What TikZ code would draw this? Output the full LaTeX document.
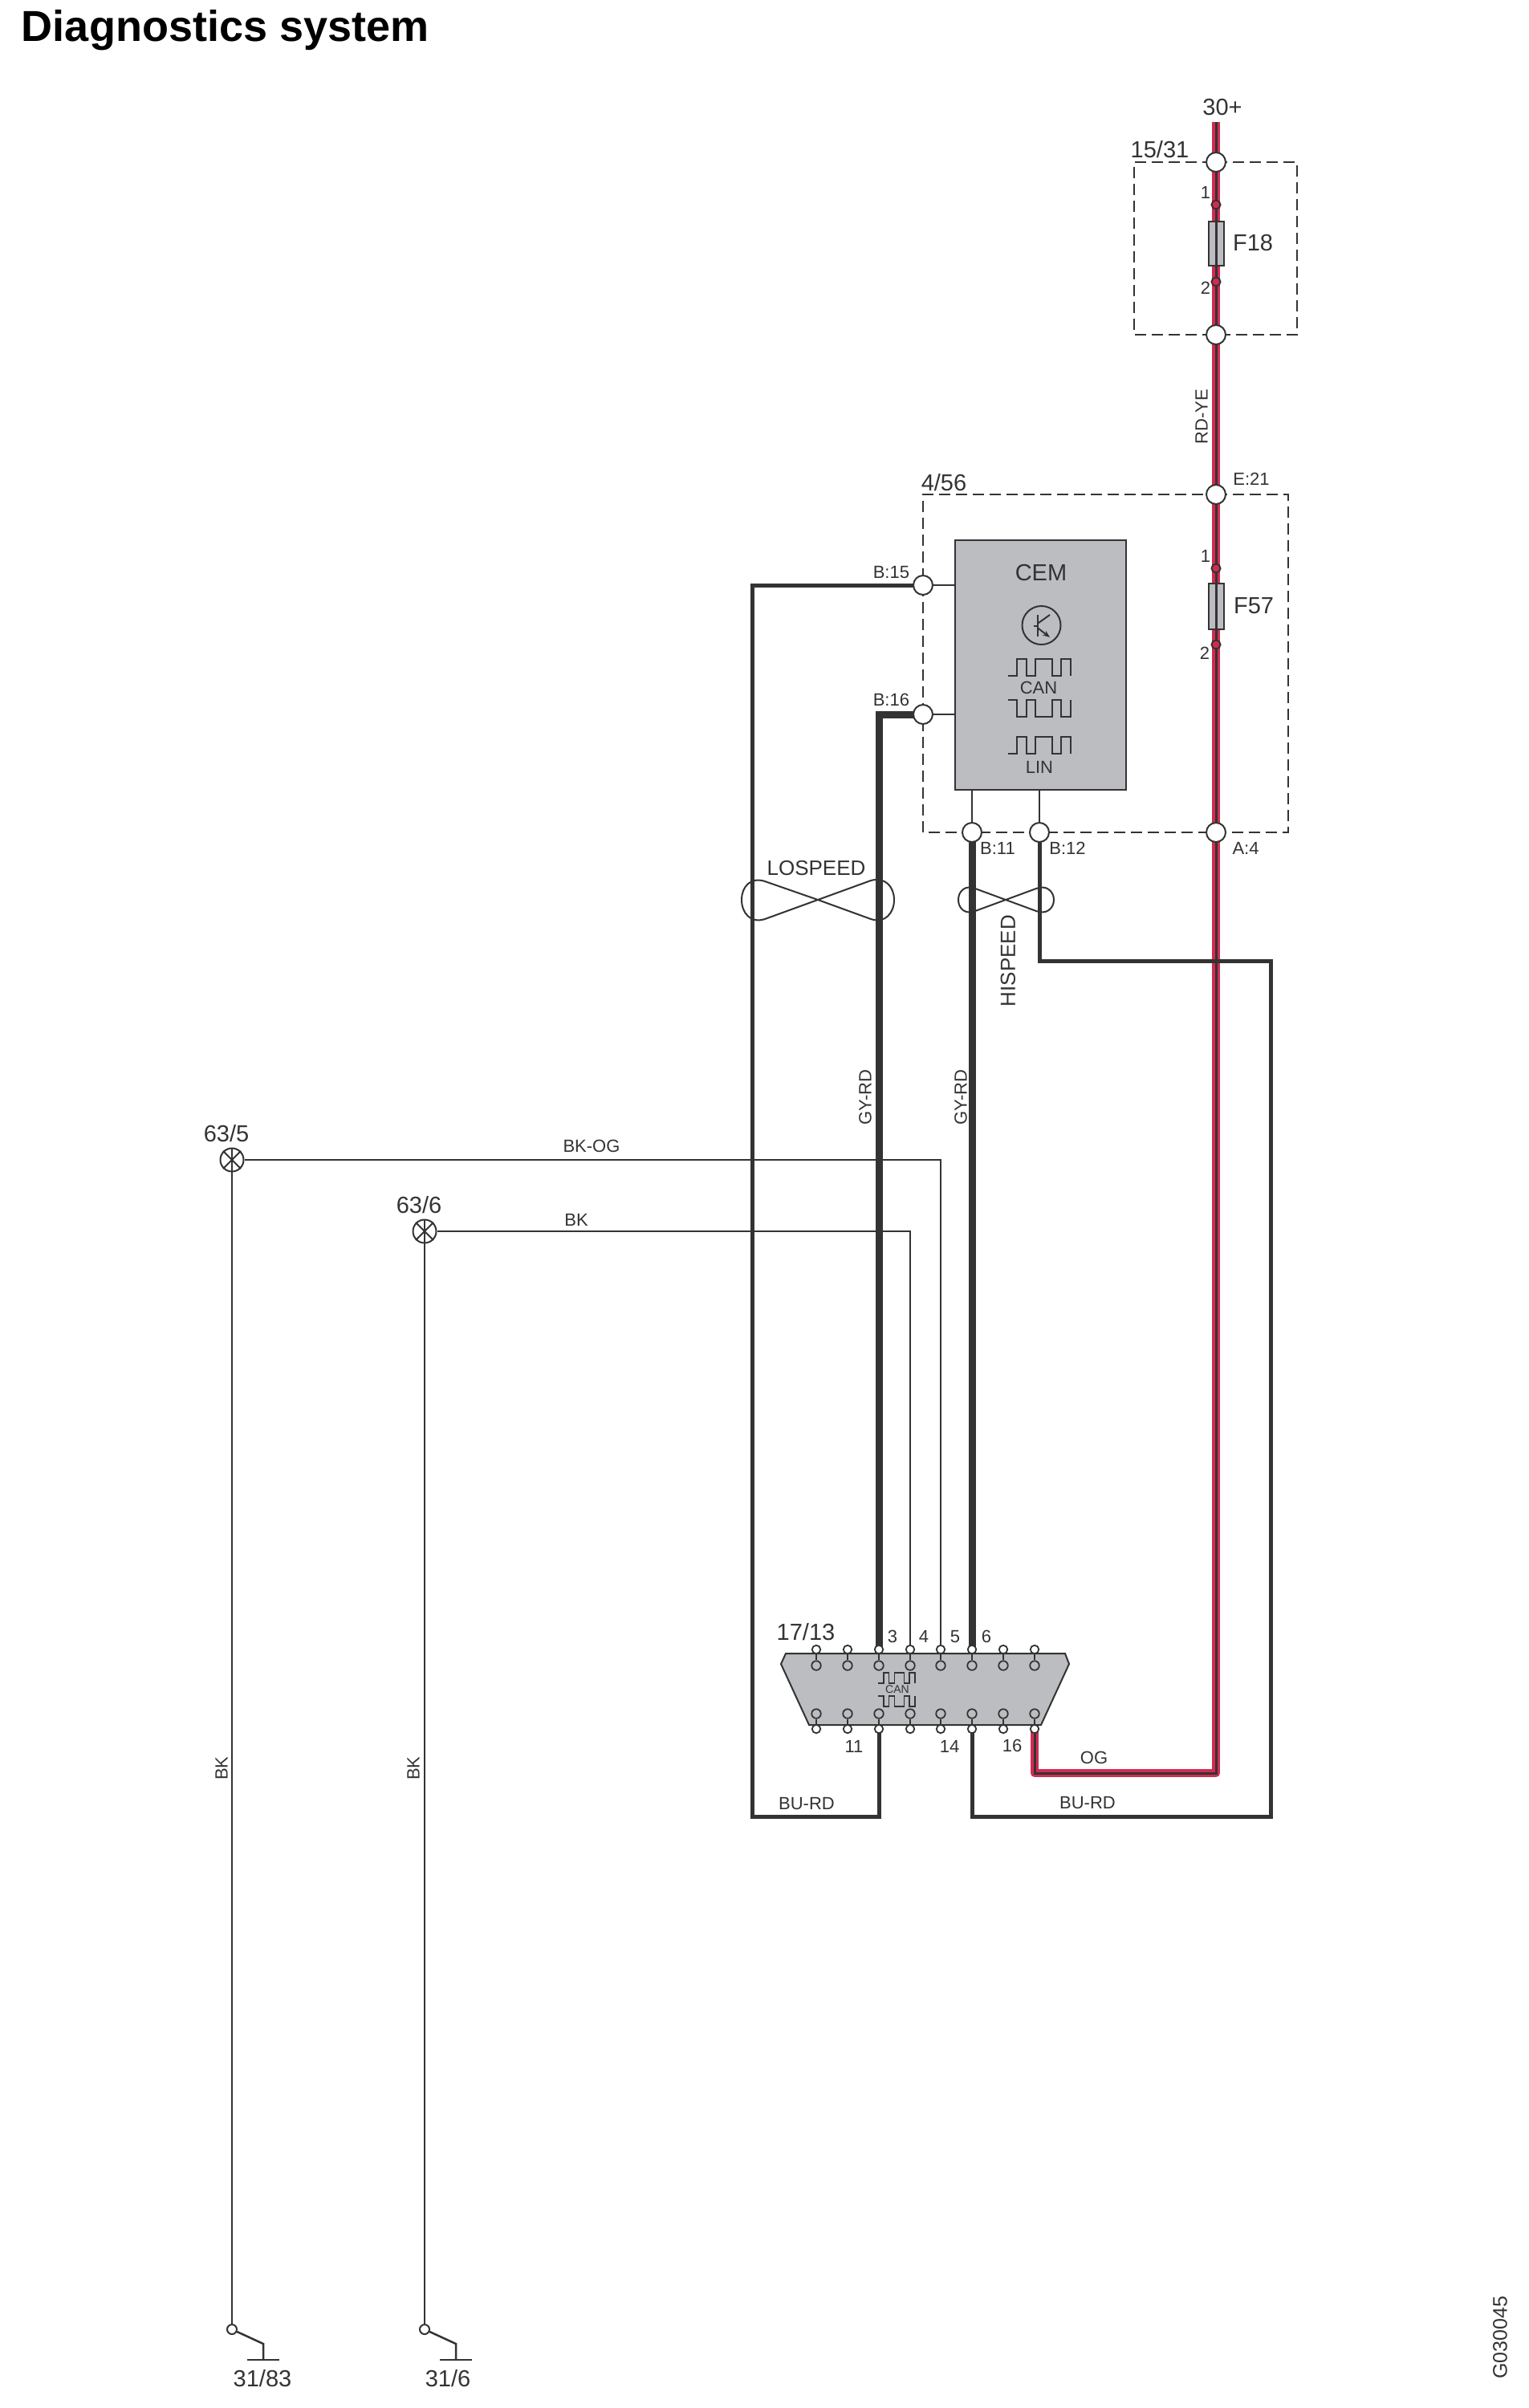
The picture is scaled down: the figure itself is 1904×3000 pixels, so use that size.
\documentclass[tikz,border=0pt]{standalone}
\usepackage{fontspec}
\setmainfont{Liberation Sans}
\usetikzlibrary{arrows.meta}
\definecolor{ink}{HTML}{333333}
\definecolor{wirered}{HTML}{D22B52}
\definecolor{boxgray}{HTML}{BCBDC0}
\pgfdeclarelayer{paper}\pgfdeclarelayer{redl}\pgfdeclarelayer{fusel}\pgfdeclarelayer{wirel}
\pgfsetlayers{paper,redl,fusel,wirel,main}
\newcommand{\fs}[1]{\fontsize{#1}{#1}\selectfont}
\tikzset{
  lab/.style={text=ink,inner sep=0pt,outer sep=0pt},
  t13/.style={lab,font=\fs{14}},
  t22/.style={lab,font=\fs{22}},
  t26/.style={lab,font=\fs{26}},
  t29/.style={lab,font=\fs{29}},
  splice/.style={circle,draw=ink,line width=2pt,fill=white,minimum size=24pt,inner sep=0pt,outer sep=0pt},
  fusedot/.style={circle,draw=ink,line width=2pt,fill=wirered,minimum size=11pt,inner sep=0pt},
  pinout/.style={circle,draw=ink,line width=1.8pt,fill=white,minimum size=10.5pt,inner sep=0pt},
  pinin/.style={circle,draw=ink,line width=1.8pt,fill=boxgray,minimum size=11.5pt,inner sep=0pt},
  earth/.style={circle,draw=ink,line width=2pt,fill=white,minimum size=29pt,inner sep=0pt},
  gnd/.style={circle,draw=ink,line width=2pt,fill=white,minimum size=12pt,inner sep=0pt},
  thin wire/.style={draw=ink,line width=2pt},
  mid wire/.style={draw=ink,line width=5pt,line join=miter},
  thick wire/.style={draw=ink,line width=9pt,line join=miter},
  red wire/.style={draw=wirered,line width=10pt,line join=round},
  core wire/.style={draw=ink,line width=3pt,line join=miter},
  dashbox/.style={draw=ink,line width=2pt,dash pattern=on 14pt off 7pt},
  graybox/.style={draw=ink,line width=2pt,fill=boxgray},
  wave/.style={draw=ink,line width=2pt},
  small wave/.style={draw=ink,line width=1.5pt},
}
\newcommand{\swave}[5][wave]{\draw[#1] ({#2},{#4}) -- ({#2+#3*0.147},{#4}) -- ({#2+#3*0.147},{#5}) -- ({#2+#3*0.295},{#5}) -- ({#2+#3*0.295},{#4}) -- ({#2+#3*0.442},{#4}) -- ({#2+#3*0.442},{#5}) -- ({#2+#3*0.71},{#5}) -- ({#2+#3*0.71},{#4}) -- ({#2+#3*0.85},{#4}) -- ({#2+#3*0.85},{#5}) -- ({#2+#3},{#5}) -- ({#2+#3},{#4});}
\begin{document}
\begin{tikzpicture}[x=1pt,y=-1pt]
\useasboundingbox (0,0) rectangle (1904,3000);
\begin{pgfonlayer}{paper}
\fill[white] (0,0) rectangle (1904,3000);
\end{pgfonlayer}

% splices
\node[splice] (a1) at (1515,202) {};
\node[splice] (a2) at (1515,417) {};
\node[splice] (e21) at (1515,616) {};
\node[splice] (a4) at (1515,1037) {};
\node[splice] (b15) at (1150,729) {};
\node[splice] (b16) at (1150,890) {};
\node[splice] (b11) at (1211,1037) {};
\node[splice] (b12) at (1295,1037) {};

% fuse terminals
\node[fusedot] (f18a) at (1515,255) {};
\node[fusedot] (f18b) at (1515,351) {};
\node[fusedot] (f57a) at (1515,708) {};
\node[fusedot] (f57b) at (1515,803) {};

% CEM
\begin{pgfonlayer}{fusel}
\node[graybox,minimum width=213pt,minimum height=311pt,inner sep=0pt,anchor=north west] (cem) at (1189,672) {};
\node[graybox,minimum width=19pt,minimum height=55pt,inner sep=0pt] (f18) at (1515.5,303) {};
\node[graybox,minimum width=19pt,minimum height=57pt,inner sep=0pt] (f57) at (1515.5,755.5) {};
\draw[graybox] (979,2060) -- (1327,2060) -- (1332,2073) -- (1297,2149) -- (1008,2149) -- (973,2073) -- cycle;
\end{pgfonlayer}
\node[t29] (lcem) at (1297,714) {CEM};
\node[circle,draw=ink,line width=2pt,minimum size=48pt,inner sep=0pt] (tr) at (1297.5,779) {};
\coordinate (trb) at (1292.5,780);
\draw[ink,line width=2pt] (1292.5,766) -- (1292.5,793);
\draw[ink,line width=2pt] (1288,780) -- (trb);
\draw[ink,line width=2pt] (1292.5,777) -- (1308,766);
\draw[ink,line width=2pt,-{Stealth[length=9pt,width=7pt]}] (1292.5,782) -- (1308,794);
\swave{1256}{78}{842}{821}
\node[t22] (lcan) at (1294,857) {CAN};
\swave{1256}{78}{872}{893}
\swave{1256}{78}{939}{918}
\node[t22] (llin) at (1295,956) {LIN};

% data link connector pins
\foreach \i/\x in {1/1017,2/1056,3/1095,4/1134,5/1172,6/1211,7/1250,8/1289}{
  \node[pinout] (t\i) at (\x,2055) {};
  \node[pinin]  (u\i) at (\x,2075) {};
  \node[pinin]  (d\i) at (\x,2135) {};
  \node[pinout] (b\i) at (\x,2154) {};
  \begin{pgfonlayer}{wirel}
    \draw[thin wire] (t\i) -- (u\i);
    \draw[thin wire] (d\i) -- (b\i);
  \end{pgfonlayer}
}
\swave[small wave]{1094}{46}{2097}{2084}
\node[t13] (lcan2) at (1118,2105) {CAN};
\swave[small wave]{1094}{46}{2113}{2126}

% earth points
\node[earth] (s5) at (289,1445) {};
\node[earth] (s6) at (529,1534) {};
\foreach \s in {s5,s6}{
  \draw[ink,line width=2pt] (\s.north) -- (\s.south);
  \draw[ink,line width=2pt] (\s.north east) -- (\s.south west);
  \draw[ink,line width=2pt] (\s.north west) -- (\s.south east);
}
\node[gnd] (g1) at (289,2902) {};
\node[gnd] (g2) at (529,2902) {};

% corners and free ends
\coordinate (top) at (1515,152);
\coordinate (cm) at (1515,2209);
\coordinate (cl) at (937,2263);
\coordinate (cr1) at (1583,1197);
\coordinate (cr2) at (1583,2263);
\coordinate (gk1) at (328,2920);
\coordinate (gb1) at (328,2940);
\coordinate (gk2) at (568,2920);
\coordinate (gb2) at (568,2940);

% wires
\begin{pgfonlayer}{redl}
\draw[red wire] (top) -- (cm) -| (b8.center);
\end{pgfonlayer}
\begin{pgfonlayer}{wirel}
\draw[core wire] (top) -- (cm) -| (b8.center);
\draw[thick wire] (b16.center) -| (t3.center);
\draw[thick wire] (b11.center) -- (t6.center);
\draw[mid wire] (b15.center) -| (cl) -| (b3.center);
\draw[mid wire] (b12.center) |- (cr1) -- (cr2) -| (b6.center);
\draw[thin wire] (b15) -- (b15 -| cem.west);
\draw[thin wire] (b16) -- (b16 -| cem.west);
\draw[thin wire] (b11) -- (b11 |- cem.south);
\draw[thin wire] (b12) -- (b12 |- cem.south);
\draw[thin wire] (s5) -| (t5.center);
\draw[thin wire] (s6) -| (t4.center);
\draw[thin wire] (s5) -- (g1);
\draw[thin wire] (s6) -- (g2);
\draw[thin wire,line width=2.5pt] (g1) -- (gk1) -- (gb1);
\draw[thin wire,line width=2.5pt] (g2) -- (gk2) -- (gb2);
\draw[thin wire,line width=2.5pt] (308,2940) -- (348,2940);
\draw[thin wire,line width=2.5pt] (548,2940) -- (588,2940);
\draw[dashbox] (a1.center) -- (1616,202) -- (1616,417) -- (a2.center) -- (1413,417) -- (1413,202) -- cycle;
\draw[dashbox] (e21.center) -- (1605,616) -- (1605,1037) -- (1150,1037) -- (1150,616) -- cycle;
\end{pgfonlayer}

% twisted pairs
\draw[ink,line width=2pt] (1019,1121) -- (953,1098) .. controls (935,1092) and (924,1105) .. (924,1121) .. controls (924,1137) and (935,1151) .. (953,1145) -- (1019,1121) -- (1085,1097) .. controls (1103,1092) and (1114,1105) .. (1114,1121) .. controls (1114,1137) and (1103,1151) .. (1085,1145) -- cycle;
\draw[ink,line width=2pt] (1253,1121) -- (1215,1107) .. controls (1203,1102) and (1194,1110) .. (1194,1121) .. controls (1194,1132) and (1203,1140) .. (1215,1135) -- (1253,1121) -- (1291,1107) .. controls (1303,1102) and (1313,1110) .. (1313,1121) .. controls (1313,1132) and (1303,1140) .. (1291,1135) -- cycle;

% labels
\node[lab,font=\bfseries\fs{54},anchor=base west,text=black] (title) at (27,52) {Diagnostics system};
\node[t29] (l30) at (1523,134) {30+};
\node[t29] (l1531) at (1445,186) {15/31};
\node[t22] (lf1) at (1502,240) {1};
\node[t22] (lf2) at (1502,359) {2};
\node[t29] (lf18) at (1561,303) {F18};
\node[t22,rotate=90] (lrdye) at (1497,519) {RD-YE};
\node[t22] (le21) at (1559,597) {E:21};
\node[t29] (l456) at (1176,601) {4/56};
\node[t22] (lf3) at (1502,693) {1};
\node[t22] (lf4) at (1501,814) {2};
\node[t29] (lf57) at (1562,755) {F57};
\node[t22,anchor=east] (lb15) at (1133,713) {B:15};
\node[t22,anchor=east] (lb16) at (1133,872) {B:16};
\node[t22] (lb11) at (1243,1057) {B:11};
\node[t22] (lb12) at (1330,1057) {B:12};
\node[t22] (la4) at (1552,1057) {A:4};
\node[t26] (llo) at (1017,1082) {LOSPEED};
\node[t26,rotate=90] (lhi) at (1256,1197) {HISPEED};
\node[t22,rotate=90] (lgy1) at (1078,1367) {GY-RD};
\node[t22,rotate=90] (lgy2) at (1197,1367) {GY-RD};
\node[t22] (lbkog) at (737,1428) {BK-OG};
\node[t22] (lbk) at (718,1520) {BK};
\node[t29] (l635) at (282,1412) {63/5};
\node[t29] (l636) at (522,1501) {63/6};
\node[t22,rotate=90] (lv1) at (276,2203) {BK};
\node[t22,rotate=90] (lv2) at (515,2203) {BK};
\node[t29] (l1713) at (1004,2033) {17/13};
\node[t22] (p3) at (1112,2039) {3};
\node[t22] (p4) at (1151,2039) {4};
\node[t22] (p5) at (1190,2039) {5};
\node[t22] (p6) at (1229,2039) {6};
\node[t22] (p11) at (1064,2176) {11};
\node[t22] (p14) at (1183,2176) {14};
\node[t22] (p16) at (1261,2175) {16};
\node[t22] (log) at (1363,2190) {OG};
\node[t22] (lbu1) at (1005,2247) {BU-RD};
\node[t22] (lbu2) at (1355,2246) {BU-RD};
\node[t29] (l3183) at (327,2963) {31/83};
\node[t29] (l316) at (558,2963) {31/6};
\node[lab,font=\fs{25},rotate=90] (lg) at (1869,2912) {G030045};
\end{tikzpicture}
\end{document}
